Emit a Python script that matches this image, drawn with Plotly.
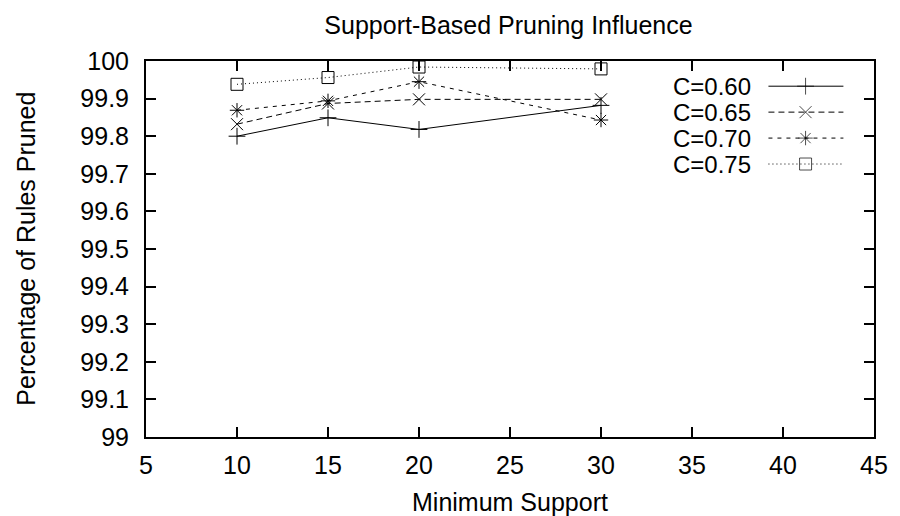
import plotly.graph_objects as go

# Minimum support thresholds (x) and pruning percentages per confidence level
support = [10, 15, 20, 30]
series_names = ["C=0.60", "C=0.65", "C=0.70", "C=0.75"]
c060 = [99.800, 99.849, 99.818, 99.882]
c065 = [99.832, 99.887, 99.898, 99.898]
c070 = [99.869, 99.894, 99.945, 99.843]
c075 = [99.938, 99.956, 99.984, 99.979]

x_ticks = [5, 10, 15, 20, 25, 30, 35, 40, 45]
y_ticks = [99, 99.1, 99.2, 99.3, 99.4, 99.5, 99.6, 99.7, 99.8, 99.9, 100]
y_tick_text = ["99", "99.1", "99.2", "99.3", "99.4", "99.5", "99.6", "99.7", "99.8", "99.9", "100"]

values = [c060, c065, c070, c075]
symbols = ["cross-thin-open", "x-thin-open", "asterisk-open", "square-open"]
dashes = ["solid", "6px,4px", "4px,5px", "1px,3px"]

FONT = "Liberation Sans, Arial, sans-serif"
FS = 25
txt = dict(family=FONT, size=FS, color="black")
key_txt = dict(family=FONT, size=24, color="black")

fig = go.Figure()

for name, ys, sym, dash in zip(series_names, values, symbols, dashes):
    fig.add_trace(go.Scatter(
        x=support, y=ys, mode="lines+markers", name=name,
        line=dict(color="black", width=1, dash=dash),
        marker=dict(symbol=sym, size=12, color="black",
                    line=dict(color="black", width=1)),
        showlegend=False, cliponaxis=False,
    ))

# Key drawn gnuplot-style: label on the left, line sample on the right
row_y = [0.933, 0.864, 0.795, 0.726]
for name, sym, dash, ry in zip(series_names, symbols, dashes, row_y):
    fig.add_trace(go.Scatter(
        x=[0.855, 0.906, 0.958], y=[ry, ry, ry], xaxis="x2", yaxis="y2",
        mode="lines+markers", showlegend=False, hoverinfo="skip",
        line=dict(color="black", width=1, dash=dash),
        marker=dict(symbol=sym, size=[0, 12, 0], color="black",
                    line=dict(color="black", width=1)),
    ))
    fig.add_annotation(x=0.832, y=ry, xref="paper", yref="paper",
                       text=name, showarrow=False, xanchor="right",
                       yanchor="middle", font=key_txt, borderpad=0)

# Axis titles
fig.add_annotation(x=0.5, y=-0.1729, xref="paper", yref="paper",
                   text="Minimum Support", showarrow=False,
                   xanchor="center", yanchor="middle", font=txt)
fig.add_annotation(x=-0.1653, y=0.5, xref="paper", yref="paper",
                   text="Percentage of Rules Pruned", showarrow=False,
                   textangle=-90, xanchor="center", yanchor="middle", font=txt)

axis_common = dict(
    showline=True, linecolor="black", linewidth=2, mirror="allticks",
    ticks="inside", ticklen=10, tickwidth=1.5, tickcolor="black",
    showgrid=False, zeroline=False, tickfont=txt,
)

fig.update_layout(
    width=900, height=516,
    margin=dict(l=146, r=22, t=61, b=79),
    paper_bgcolor="white", plot_bgcolor="white",
    title=dict(text="Support-Based Pruning Influence", x=0.565, y=0.9516,
               xanchor="center", yanchor="middle", font=txt),
    xaxis=dict(range=[5, 45], tickvals=x_ticks, ticklabelstandoff=5,
               **axis_common),
    yaxis=dict(range=[99, 100], tickvals=y_ticks, ticktext=y_tick_text,
               ticklabelstandoff=10, **axis_common),
    xaxis2=dict(range=[0, 1], overlaying="x", visible=False, domain=[0, 1]),
    yaxis2=dict(range=[0, 1], overlaying="y", visible=False, domain=[0, 1]),
)

fig.write_html("out.html")
